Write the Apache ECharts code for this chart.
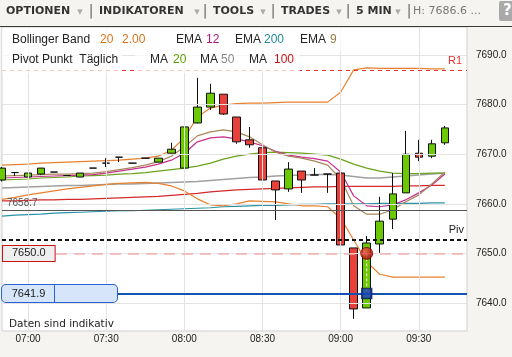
<!DOCTYPE html>
<html><head><meta charset="utf-8">
<script src="https://cdn.jsdelivr.net/npm/echarts@6.0.0/dist/echarts.min.js"></script>
<style>html,body{margin:0;padding:0;background:#f5f4f0;}#c{width:512px;height:357px;}</style>
</head><body><div id="c"></div>
<script>
// ---- data ----
const times = ['06:50','06:55','07:00','07:05','07:10','07:15','07:20','07:25','07:30','07:35','07:40','07:45','07:50','07:55','08:00','08:05','08:10','08:15','08:20','08:25','08:30','08:35','08:40','08:45','08:50','08:55','09:00','09:05','09:10','09:15','09:20','09:25','09:30','09:35','09:40'];
const openP  = [7664.8,7666.3,7665.4,7666.0,7666.4,7665.7,7665.4,7667.2,7668.2,7669.4,7668.2,7669.2,7668.4,7670.2,7667.2,7676.3,7679.5,7682.1,7677.5,7672.9,7671.3,7664.6,7663.0,7666.6,7665.8,7666.0,7666.2,7651.1,7639.0,7651.9,7656.9,7662.2,7670.2,7669.6,7672.3];
const closeP = [7667.2,7666.3,7666.2,7667.2,7666.4,7665.7,7666.2,7667.2,7668.2,7669.4,7668.2,7669.2,7669.2,7671.0,7675.5,7679.5,7682.3,7678.1,7672.5,7671.9,7664.8,7662.8,7667.0,7664.8,7665.8,7666.0,7651.7,7638.8,7652.1,7656.5,7662.0,7670.0,7669.4,7672.1,7675.3];
const lowP   = [7664.5,7665.6,7665.4,7665.8,7666.4,7665.7,7665.4,7667.2,7667.4,7668.4,7668.2,7669.2,7668.4,7670.2,7667.0,7676.2,7678.9,7677.9,7672.1,7671.3,7664.8,7656.7,7662.4,7662.2,7665.8,7662.2,7650.3,7636.8,7639.0,7650.1,7654.9,7662.2,7668.6,7669.2,7671.9];
const highP  = [7667.4,7666.4,7666.2,7667.2,7666.4,7665.7,7666.2,7667.2,7669.2,7669.4,7668.2,7669.2,7669.2,7672.3,7677.3,7685.4,7684.2,7682.1,7677.5,7675.5,7671.5,7664.6,7668.4,7666.6,7667.2,7666.0,7669.2,7651.1,7653.5,7661.4,7666.2,7674.7,7672.9,7672.9,7675.7];

const bbUpper = [7667.8,7667.9,7668.0,7668.2,7668.3,7668.4,7668.5,7668.6,7668.7,7668.8,7669.0,7669.2,7669.6,7670.8,7673.3,7677.5,7679.3,7679.9,7680.2,7680.3,7680.3,7680.4,7680.5,7680.5,7680.5,7680.5,7682.5,7687.0,7687.4,7687.3,7687.3,7687.3,7687.3,7687.2,7687.2];
const bbLower = [7660.9,7661.3,7661.8,7662.2,7662.6,7663.0,7663.3,7663.6,7663.9,7664.1,7664.2,7664.3,7664.1,7663.6,7662.6,7661.0,7659.8,7659.6,7660.0,7660.6,7660.5,7660.4,7660.0,7659.6,7659.6,7659.4,7657.1,7652.7,7648.3,7645.8,7645.2,7645.2,7645.2,7645.2,7645.2];
const ma20  = [7664.8,7664.9,7665.0,7665.2,7665.3,7665.4,7665.6,7665.7,7665.8,7666.0,7666.1,7666.3,7666.6,7666.9,7667.2,7667.6,7668.2,7669.0,7669.6,7670.0,7670.3,7670.4,7670.3,7670.2,7670.0,7669.8,7669.0,7668.0,7667.2,7666.6,7666.2,7666.1,7666.1,7666.2,7666.2];
const ma50  = [7663.2,7663.3,7663.4,7663.5,7663.6,7663.7,7663.7,7663.8,7663.9,7664.0,7664.0,7664.1,7664.2,7664.3,7664.4,7664.5,7664.7,7664.9,7665.1,7665.3,7665.4,7665.6,7665.7,7665.8,7665.9,7665.9,7665.8,7665.5,7665.2,7665.2,7665.4,7665.6,7665.8,7666.0,7666.2];
const ma100 = [7660.6,7660.6,7660.7,7660.8,7660.8,7660.9,7660.9,7661.0,7661.1,7661.2,7661.3,7661.4,7661.5,7661.7,7661.9,7662.1,7662.4,7662.6,7662.8,7662.9,7663.0,7663.1,7663.2,7663.3,7663.4,7663.4,7663.5,7663.5,7663.5,7663.5,7663.5,7663.6,7663.6,7663.7,7663.7];
const ema200 = [7657.5,7657.7,7657.8,7657.9,7658.1,7658.2,7658.3,7658.4,7658.5,7658.6,7658.6,7658.7,7658.8,7658.9,7659.0,7659.1,7659.2,7659.4,7659.5,7659.6,7659.7,7659.7,7659.8,7659.9,7659.9,7660.0,7660.0,7660.0,7660.0,7660.1,7660.1,7660.1,7660.1,7660.2,7660.2];
const ema12 = [7665.2,7665.3,7665.4,7665.5,7665.6,7665.7,7665.8,7665.9,7666.2,7666.6,7667.0,7667.4,7668.0,7668.8,7670.2,7672.5,7673.3,7673.5,7673.1,7672.5,7671.7,7670.6,7669.8,7669.4,7669.1,7668.6,7666.4,7661.6,7659.6,7659.4,7659.8,7660.8,7662.2,7663.8,7666.0];
const ema9  = [7665.6,7665.7,7665.8,7665.9,7666.0,7666.0,7666.1,7666.2,7666.5,7666.9,7667.3,7667.8,7668.5,7669.6,7671.5,7673.7,7674.5,7674.9,7674.5,7673.5,7671.9,7670.4,7669.6,7669.2,7668.6,7667.8,7665.0,7659.6,7657.9,7657.9,7658.8,7660.4,7661.8,7664.0,7666.4];

const yTicks = [7640, 7650, 7660, 7670, 7680, 7690];
const xTickLabels = ['07:00','07:30','08:00','08:30','09:00','09:30'];

const pivotLevel = 7652.8;
const r1Level = 7687.0;
const prevClose = 7658.7;
const entryLevel = 7650.0;
const stopLevel = 7641.9;
const lastPrice = 7675.3;
const tradeTime = '09:10';

// ---- helpers ----
const toMin = t => { const p = t.split(':').map(Number); return (p[0] - 7) * 60 + p[1]; };
const xs = times.map(toMin);
const pts = arr => xs.map((x, i) => [x, arr[i]]);
const LBL = 'Liberation Sans';
const tradeX = toMin(tradeTime);

const lineS = (arr, color, w) => ({
  type: 'line', z: 2, data: pts(arr), showSymbol: false, symbol: 'none', silent: true,
  lineStyle: { color: color, width: w || 1.2 }
});

// ---- graphics (toolbar, legend, notes) ----
const G = [];
G.push({ type: 'rect', z: 10, shape: { x: 0, y: 0, width: 512, height: 26 }, style: { fill: '#f5f4f0' } });
G.push({ type: 'rect', z: 10, shape: { x: 0, y: 26, width: 512, height: 1 }, style: { fill: '#3a3a3a' } });
const tb = [['OPTIONEN', 6], ['INDIKATOREN', 99], ['TOOLS', 213], ['TRADES', 281], ['5 MIN', 356]];
tb.forEach(t => G.push({ type: 'text', z: 11, x: t[1], y: 11, style: { text: t[0], font: 'bold 11px "DejaVu Sans"', fill: '#333', verticalAlign: 'middle' } }));
[80, 197, 263, 339, 398].forEach(x => G.push({ type: 'text', z: 11, x: x, y: 12, style: { text: '▼', font: '7px "DejaVu Sans"', fill: '#aaa', align: 'center', verticalAlign: 'middle' } }));
[91, 205, 273, 348, 409].forEach(x => G.push({ type: 'text', z: 11, x: x, y: 11, style: { text: '|', font: '14px "DejaVu Sans"', fill: '#666', align: 'center', verticalAlign: 'middle' } }));
G.push({ type: 'text', z: 11, x: 413, y: 11, style: { text: 'H: 7686.6 ...', font: '11px "DejaVu Sans"', fill: '#777', verticalAlign: 'middle' } });
G.push({ type: 'rect', z: 11, shape: { x: 499, y: 1, width: 18, height: 20, r: 2 }, style: { fill: '#a9a9a9' } });
G.push({ type: 'text', z: 12, x: 503, y: 11, style: { text: '?', font: 'bold 15px "DejaVu Sans"', fill: '#fff', verticalAlign: 'middle' } });

// legend backgrounds
G.push({ type: 'rect', z: 9, shape: { x: 2, y: 28, width: 345, height: 23 }, style: { fill: 'rgba(255,255,255,0.7)' } });
G.push({ type: 'rect', z: 9, shape: { x: 2, y: 51, width: 120, height: 22 }, style: { fill: 'rgba(255,255,255,0.7)' } });
G.push({ type: 'rect', z: 9, shape: { x: 135, y: 51, width: 165, height: 22 }, style: { fill: 'rgba(255,255,255,0.7)' } });
const leg = [
  ['Bollinger Band', 12, 40, '#222'], ['20', 100, 40, '#d9731a'], ['2.00', 122, 40, '#d9731a'],
  ['EMA', 176, 40, '#222'], ['12', 206, 40, '#b5127a'],
  ['EMA', 235, 40, '#222'], ['200', 264, 40, '#1f8c9c'],
  ['EMA', 300, 40, '#222'], ['9', 330, 40, '#9a7a4c'],
  ['Pivot Punkt  Täglich', 12, 60, '#222'],
  ['MA', 150, 60, '#222'], ['20', 173, 60, '#5c9e00'],
  ['MA', 200, 60, '#222'], ['50', 221, 60, '#888'],
  ['MA', 249, 60, '#222'], ['100', 274, 60, '#cc1111']
];
leg.forEach(l => G.push({ type: 'text', z: 11, x: l[1], y: l[2], style: { text: l[0], font: '12px "Liberation Sans"', fill: l[3], verticalAlign: 'middle' } }));
G.push({ type: 'text', z: 11, x: 9, y: 324, style: { text: 'Daten sind indikativ', font: '10.5px "DejaVu Sans"', fill: '#222', verticalAlign: 'middle' } });

const option = {
  animation: false,
  backgroundColor: '#f5f4f0',
  grid: { left: 2, right: 45, top: 27, bottom: 26, show: true, backgroundColor: '#ffffff', borderColor: '#cfcfcf', borderWidth: 1 },
  xAxis: { type: 'value', min: -10, max: 168.5, show: false },
  yAxis: { type: 'value', min: 7634.35, max: 7695.65, show: false, scale: true },
  graphic: G,
  series: [
    { // grid lines and axis labels
      type: 'line', data: [], z: 1, silent: true,
      markLine: {
        silent: true, symbol: 'none', animation: false,
        lineStyle: { color: '#e3e3e3', width: 1, type: 'solid' },
        label: { show: true, position: 'end', distance: 9, color: '#222', fontSize: 10, fontFamily: LBL,
                 formatter: p => Number(p.value).toFixed(1) },
        emphasis: { disabled: true },
        data: yTicks.map(v => ({ yAxis: v })).concat(
          xTickLabels.map(l => ({ xAxis: toMin(l), label: { position: 'start', distance: 3, formatter: l } })))
      }
    },
    Object.assign(lineS(ema200, '#2a92a6'), {
      markLine: { silent: true, symbol: 'none', emphasis: { disabled: true },
        data: [
          { yAxis: prevClose, lineStyle: { color: '#555', width: 1, type: 'solid' },
            label: { position: 'insideStartTop', distance: [5, 2], formatter: '7658.7', color: '#555', fontSize: 10, fontFamily: LBL } },
          { yAxis: r1Level, lineStyle: { color: '#e53030', width: 1, type: [4, 4] },
            label: { position: 'insideEndTop', distance: [5, 3], formatter: 'R1', color: '#e53030', fontSize: 11, fontFamily: LBL } }
        ] }
    }),
    lineS(ma100, '#d42a2a'),
    lineS(ma50, '#a0a0a0', 1.4),
    lineS(ma20, '#6aa31a'),
    lineS(bbUpper, '#e8812f'),
    lineS(bbLower, '#e8812f'),
    lineS(ema12, '#c8308f'),
    lineS(ema9, '#a8875a'),
    {
      type: 'candlestick', z: 3, silent: true,
      data: xs.map((x, i) => [x, openP[i], closeP[i], lowP[i], highP[i]]),
      encode: { x: 0, y: [1, 2, 3, 4] },
      barWidth: 8,
      itemStyle: { color: '#6cc800', color0: '#e8413b', borderColor: '#111', borderColor0: '#111', borderColorDoji: '#111', borderWidth: 1 }
    },
    { // order levels
      type: 'line', data: [], z: 4, silent: true,
      markLine: { silent: true, symbol: 'none', emphasis: { disabled: true },
        data: [
          { yAxis: entryLevel, lineStyle: { color: '#f3b0b0', width: 1.5, type: [11, 7] },
            label: { position: 'insideStart', distance: 1, formatter: '7650.0', color: '#222', fontSize: 11, fontFamily: LBL,
                     backgroundColor: '#eeeeee', borderColor: '#cc1111', borderWidth: 1, padding: [2, 9, 2, 9] } },
          { yAxis: pivotLevel, lineStyle: { color: '#111', width: 2, type: [4, 3] },
            label: { position: 'insideEndTop', distance: [3, 4], formatter: 'Piv', color: '#222', fontSize: 11, fontFamily: LBL } },
          { yAxis: stopLevel, lineStyle: { color: '#1452b4', width: 2, type: 'solid' },
            label: { position: 'insideStart', distance: 0, formatter: '{a|7641.9}{b|}',
              rich: {
                a: { color: '#222', fontSize: 11, fontFamily: LBL, width: 35, align: 'center', height: 12, padding: [3, 9, 2, 9],
                     backgroundColor: '#d6e5f9', borderColor: '#2a62d4', borderWidth: 1, borderRadius: [4, 0, 0, 4] },
                b: { width: 62, height: 12, padding: [3, 0, 2, 0],
                     backgroundColor: '#d6e5f9', borderColor: '#2a62d4', borderWidth: 1, borderRadius: [0, 4, 4, 0] }
              } } },
          { yAxis: lastPrice, lineStyle: { opacity: 0 },
            label: { position: 'end', distance: 0, formatter: '7675.3', color: '#111', fontSize: 10, fontFamily: LBL,
                     backgroundColor: '#dcdcdc', borderColor: '#444', borderWidth: 1, padding: [3, 4, 2, 8] } }
        ] }
    },
    { type: 'line', z: 5, silent: true, symbol: 'none', data: [[tradeX, entryLevel], [tradeX, stopLevel]],
      lineStyle: { color: '#ffffff', width: 1, type: [3, 2] } },
    { type: 'scatter', z: 6, silent: true, data: [[tradeX, entryLevel]], symbol: 'circle', symbolSize: 12,
      itemStyle: { color: { type: 'radial', x: 0.35, y: 0.35, r: 0.7, colorStops: [{ offset: 0, color: '#ff5a5a' }, { offset: 1, color: '#a30000' }] },
                   borderColor: '#8a0000', borderWidth: 1 } },
    { type: 'scatter', z: 6, silent: true, data: [[tradeX, stopLevel]], symbol: 'rect', symbolSize: 10,
      itemStyle: { color: '#1a3fc0', borderColor: '#0a1f60', borderWidth: 1.5 } }
  ]
};
const chart = echarts.init(document.getElementById('c'), null, { renderer: 'canvas' });
chart.setOption(option);
</script></body></html>
